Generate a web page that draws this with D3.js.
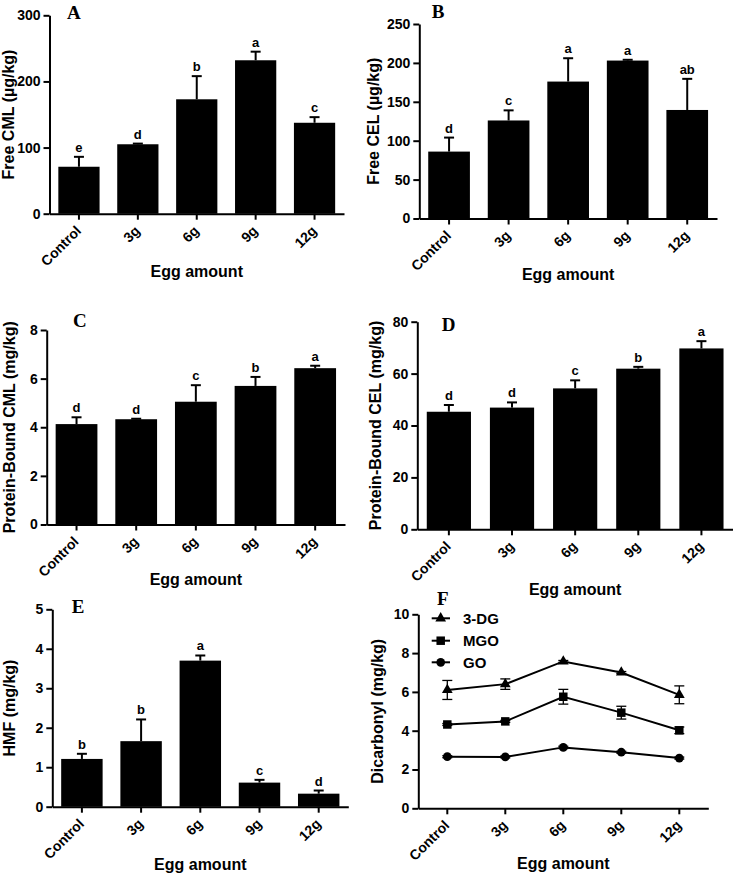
<!DOCTYPE html>
<html>
<head>
<meta charset="utf-8">
<script src="https://cdn.jsdelivr.net/npm/d3@7/dist/d3.min.js"></script>
<style>
  html, body { margin: 0; padding: 0; background: #fff; }
  svg { display: block; }
  text { font-family: "Liberation Sans", Arial, sans-serif; font-weight: bold; fill: #000; }
  .plabel { font-family: "Liberation Serif", "Times New Roman", serif; font-weight: bold; }
</style>
</head>
<body>
<svg id="chart" width="733" height="874"></svg>
<script>
// ---------------- DATA ----------------
const categories = ["Control", "3g", "6g", "9g", "12g"];

const freeCML = [71, 105, 173, 232, 137.5];
const freeCMLErr = [15, 1, 35, 13, 8.5];
const freeCMLLetters = ["e", "d", "b", "a", "c"];
const freeCMLTicks = [0, 100, 200, 300];

const freeCEL = [86, 126, 176, 203, 139.5];
const freeCELErr = [18, 13, 30, 1, 40];
const freeCELLetters = ["d", "c", "a", "a", "ab"];
const freeCELTicks = [0, 50, 100, 150, 200, 250];

const boundCML = [4.13, 4.33, 5.05, 5.7, 6.43];
const boundCMLErr = [0.28, 0.02, 0.68, 0.37, 0.1];
const boundCMLLetters = ["d", "d", "c", "b", "a"];
const boundCMLTicks = [0, 2, 4, 6, 8];

const boundCEL = [45.3, 46.9, 54.3, 61.9, 69.7];
const boundCELErr = [2.6, 2.0, 3.1, 0.7, 2.8];
const boundCELLetters = ["d", "d", "c", "b", "a"];
const boundCELTicks = [0, 20, 40, 60, 80];

const hmf = [1.21, 1.66, 3.70, 0.61, 0.33];
const hmfErr = [0.13, 0.55, 0.13, 0.07, 0.08];
const hmfLetters = ["b", "b", "a", "c", "d"];
const hmfTicks = [0, 1, 2, 3, 4, 5];

const dg3 = [6.1, 6.4, 7.57, 7.0, 5.85];
const dg3Err = [0.49, 0.27, 0.05, 0.05, 0.46];
const mgo = [4.32, 4.48, 5.75, 4.93, 4.02];
const mgoErr = [0.05, 0.05, 0.38, 0.33, 0.17];
const go = [2.66, 2.65, 3.14, 2.89, 2.59];
const goErr = [0.05, 0.05, 0.06, 0.05, 0.05];
const dicarbonylTicks = [0, 2, 4, 6, 8, 10];
const seriesNames = ["3-DG", "MGO", "GO"];

const xTitle = "Egg amount";

// ---------------- DRAW ----------------
const svg = d3.select("#chart");

function axes(g, p, ticks) {
  const x = d3.scaleBand().domain(categories).range([p.x0, p.x1]).paddingInner(0.3).paddingOuter(0.15);
  const y = d3.scaleLinear().domain([0, p.max]).range([p.yBot, p.yTop]);

  const ya = g.append("g").attr("transform", `translate(${p.x0},0)`)
    .call(d3.axisLeft(y).tickValues(ticks).tickFormat(d3.format("~g")).tickSize(6).tickPadding(3).tickSizeOuter(0));
  ya.select(".domain").attr("stroke-width", 2).attr("stroke", "#000");
  ya.selectAll(".tick line").attr("stroke-width", 2);
  ya.selectAll(".tick text").style("font-size", "14px").style("font-family", '"Liberation Sans", Arial, sans-serif').style("font-weight", "bold");

  const xa = g.append("g").attr("transform", `translate(0,${p.yBot})`)
    .call(d3.axisBottom(x).tickSize(6).tickSizeOuter(0));
  xa.select(".domain").attr("stroke-width", 2).attr("stroke", "#000");
  xa.selectAll(".tick line").attr("stroke-width", 2);
  xa.selectAll(".tick text")
    .style("font-size", "14px").style("font-family", '"Liberation Sans", Arial, sans-serif').style("font-weight", "bold")
    .attr("text-anchor", "end")
    .attr("dy", null).attr("y", null)
    .attr("transform", "translate(3,18) rotate(-45)");

  g.append("text").attr("transform", `translate(${p.ytx},${(p.yTop + p.yBot) / 2 + (p.tyOff || 0)}) rotate(-90)`)
    .attr("text-anchor", "middle").style("font-size", "16px").text(p.yTitle);
  g.append("text").attr("x", (p.x0 + p.x1) / 2 + (p.xtOff || 0)).attr("y", p.xty)
    .attr("text-anchor", "middle").style("font-size", "16px").text(xTitle);
  g.append("text").attr("class", "plabel").attr("x", p.lx).attr("y", p.ly)
    .style("font-size", "19px").text(p.label);
  return { x, y };
}

function barPanel(p, values, errs, letters, ticks) {
  const g = svg.append("g");
  const { x, y } = axes(g, p, ticks);
  const data = categories.map((c, i) => ({ c, v: values[i], e: errs[i], l: letters[i] }));
  g.selectAll("rect.bar").data(data).join("rect").attr("class", "bar")
    .attr("x", d => x(d.c)).attr("width", x.bandwidth())
    .attr("y", d => y(d.v)).attr("height", d => y(0) - y(d.v))
    .attr("fill", "#000");
  const cx = d => x(d.c) + x.bandwidth() / 2;
  g.selectAll("line.err").data(data).join("line").attr("class", "err")
    .attr("x1", cx).attr("x2", cx).attr("y1", d => y(d.v)).attr("y2", d => y(d.v + d.e))
    .attr("stroke", "#000").attr("stroke-width", 2);
  g.selectAll("line.cap").data(data).join("line").attr("class", "cap")
    .attr("x1", d => cx(d) - 5).attr("x2", d => cx(d) + 5)
    .attr("y1", d => y(d.v + d.e)).attr("y2", d => y(d.v + d.e))
    .attr("stroke", "#000").attr("stroke-width", 2);
  g.selectAll("text.sig").data(data).join("text").attr("class", "sig")
    .attr("x", cx).attr("y", d => y(d.v + d.e) - 5)
    .attr("text-anchor", "middle").style("font-size", "13px").text(d => d.l);
}

barPanel({ x0: 49.5, x1: 344, yTop: 15.3, yBot: 213.7, max: 300, ytx: 14, yTitle: "Free CML (µg/kg)", xty: 277, label: "A", lx: 67, ly: 19 },
  freeCML, freeCMLErr, freeCMLLetters, freeCMLTicks);
barPanel({ x0: 419.3, x1: 717, yTop: 24, yBot: 218.5, max: 250, ytx: 379, yTitle: "Free CEL (µg/kg)", xty: 280, label: "B", lx: 431.7, ly: 18 },
  freeCEL, freeCELErr, freeCELLetters, freeCELTicks);
barPanel({ x0: 46.7, x1: 345, yTop: 330, yBot: 524.5, max: 8, ytx: 15, yTitle: "Protein-Bound CML (mg/kg)", xty: 585, label: "C", lx: 73, ly: 327 },
  boundCML, boundCMLErr, boundCMLLetters, boundCMLTicks);
barPanel({ x0: 417.3, x1: 733, yTop: 321.7, yBot: 529.3, max: 80, ytx: 381, yTitle: "Protein-Bound CEL (mg/kg)", xty: 595, label: "D", lx: 441.7, ly: 331 },
  boundCEL, boundCELErr, boundCELLetters, boundCELTicks);
barPanel({ x0: 52.3, x1: 348.3, yTop: 609.3, yBot: 806.7, max: 5, ytx: 15, yTitle: "HMF (mg/kg)", xty: 870, label: "E", lx: 71.7, ly: 613 },
  hmf, hmfErr, hmfLetters, hmfTicks);

// ---- Panel F: line chart ----
(function () {
  const p = { x0: 418.3, x1: 708.3, yTop: 614.3, yBot: 808.3, max: 10, ytx: 383, yTitle: "Dicarbonyl (mg/kg)", xty: 869, label: "F", lx: 437, ly: 605 };
  const g = svg.append("g");
  const { x, y } = axes(g, p, dicarbonylTicks);
  const cx = c => x(c) + x.bandwidth() / 2;
  const series = [
    { name: seriesNames[0], v: dg3, e: dg3Err, sym: d3.symbolTriangle, size: 50 },
    { name: seriesNames[1], v: mgo, e: mgoErr, sym: d3.symbolSquare, size: 72 },
    { name: seriesNames[2], v: go, e: goErr, sym: d3.symbolCircle, size: 60 }
  ];
  const line = d3.line().x((d, i) => cx(categories[i])).y(d => y(d));
  series.forEach(s => {
    g.append("path").attr("d", line(s.v)).attr("fill", "none").attr("stroke", "#000").attr("stroke-width", 2);
    const pts = categories.map((c, i) => ({ c, v: s.v[i], e: s.e[i] }));
    const eg = g.append("g");
    pts.forEach(d => {
      const xx = cx(d.c);
      eg.append("line").attr("x1", xx).attr("x2", xx).attr("y1", y(d.v - d.e)).attr("y2", y(d.v + d.e)).attr("stroke", "#000").attr("stroke-width", 1.3);
      [d.v - d.e, d.v + d.e].forEach(t => eg.append("line").attr("x1", xx - 5).attr("x2", xx + 5).attr("y1", y(t)).attr("y2", y(t)).attr("stroke", "#000").attr("stroke-width", 1.3));
    });
    g.selectAll(null).data(pts).join("path")
      .attr("transform", d => `translate(${cx(d.c)},${y(d.v)})`)
      .attr("d", d3.symbol().type(s.sym).size(s.size)).attr("fill", "#000");
  });
  // legend
  const ly0 = [618.3, 640.7, 662.3];
  series.forEach((s, i) => {
    const lg = g.append("g").attr("transform", `translate(0,${ly0[i]})`);
    lg.append("line").attr("x1", 431.7).attr("x2", 450).attr("y1", 0).attr("y2", 0).attr("stroke", "#000").attr("stroke-width", 2);
    lg.append("path").attr("transform", "translate(440.7,0)").attr("d", d3.symbol().type(s.sym).size(s.size)).attr("fill", "#000");
    lg.append("text").attr("x", 463).attr("dy", "0.36em").style("font-size", "15px").text(s.name);
  });
})();
</script>
</body>
</html>
